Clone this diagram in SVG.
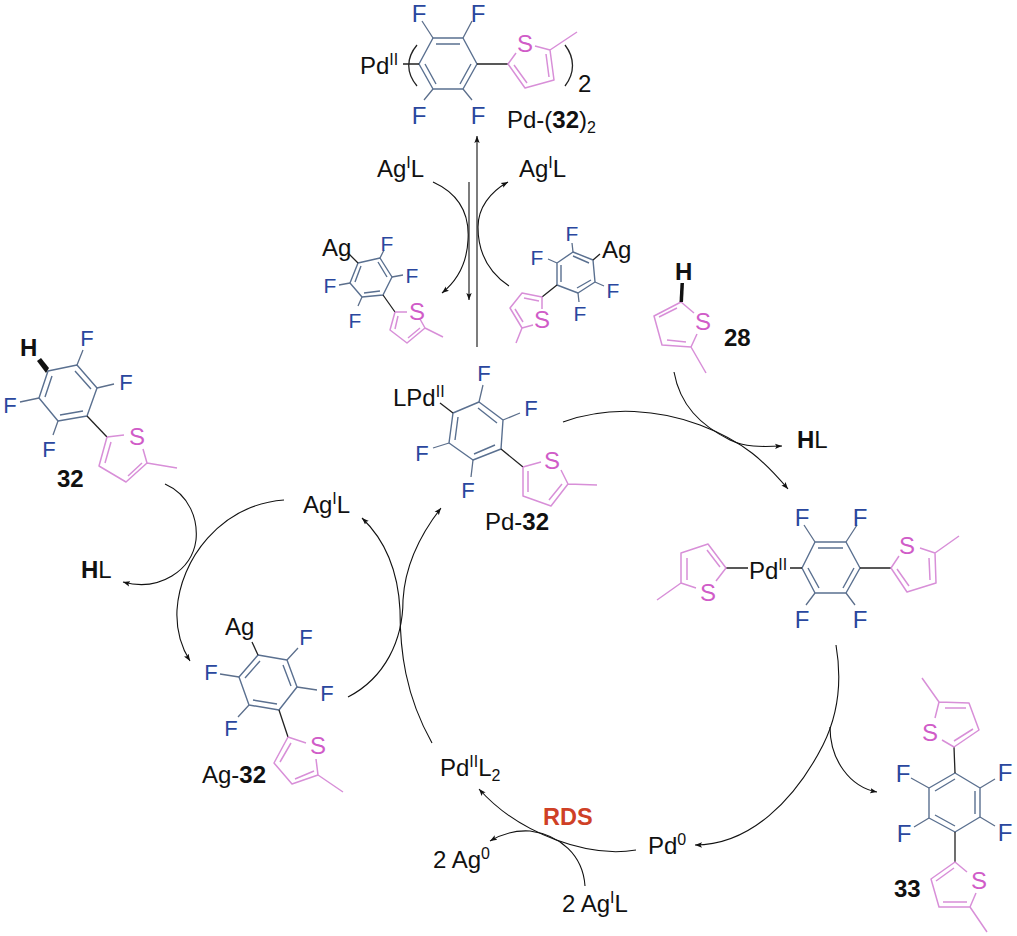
<svg xmlns="http://www.w3.org/2000/svg" width="1017" height="936" viewBox="0 0 1017 936">
<style>
text{font-family:"Liberation Sans",Arial,sans-serif;fill:#111}
.l{font-size:24px}
.b{font-weight:bold}
.f{font-size:24px;fill:#2a479e;text-anchor:middle}
.fm{font-size:22px;fill:#2a479e;text-anchor:middle}
.fs{font-size:21px;fill:#2a479e;text-anchor:middle}
.s{font-size:24px;fill:#d05cc8;text-anchor:middle}
.ring{fill:none;stroke:#5a7090;stroke-width:1.4;stroke-linejoin:round}
.fb{fill:none;stroke:#5c6f8c;stroke-width:1.3}
.th{fill:none;stroke:#d88fd8;stroke-width:1.5;stroke-linejoin:round}
.k{fill:none;stroke:#222;stroke-width:1.3}
.c{fill:none;stroke:#111;stroke-width:1.1}
.a{marker-end:url(#ah)}
.sup{font-size:16px}
</style>
<defs>
<marker id="ah" markerUnits="userSpaceOnUse" markerWidth="9" markerHeight="7" refX="7" refY="3.5" orient="auto"><path d="M0,0.8L7,3.5L0,6.2L1.5,3.5Z" fill="#111"/></marker>
</defs>
<rect width="1017" height="936" fill="#fff"/>

<g id="connectors">
<path class="c a" d="M477,347V136"/>
<path class="c a" d="M469,182V300"/>
<path class="c a" d="M433,182C455,192 470,210 468,240C467,262 458,280 442,293"/>
<path class="c a" d="M509,286C488,272 478,252 478,227C478,208 490,192 508,182"/>
<path class="c a" d="M563,422C610,405 660,410 700,425C745,442 765,462 788,489"/>
<path class="c a" d="M674,372C680,405 700,425 730,440C745,447 760,447 782,446"/>
<path class="c a" d="M836,645C842,680 838,715 823,745C795,800 750,845 695,845"/>
<path class="c a" d="M830,727C830,760 850,787 877,792"/>
<path class="c a" d="M636,850C590,858 520,835 479,789"/>
<path class="c a" d="M585,886C583,855 560,835 530,831C515,830 502,834 490,841"/>
<path class="c a" d="M432,743C405,695 400,650 400,610C398,570 385,540 362,518"/>
<path class="c a" d="M348,697C385,678 403,640 403,600C405,565 420,535 441,508"/>
<path class="c a" d="M284,500C220,505 180,560 177,610C176,630 180,645 190,661"/>
<path class="c a" d="M165,484C190,495 198,520 196,540C192,570 160,592 123,582"/>
</g>

<g id="pd-32-2">
<path class="ring" d="M433,38H463L477,64L463,89H433L419,64ZM436,44H460M471,64L460,84M436,84L425,64"/>
<path class="fb" d="M422,21L433,38M472,21L463,38M433,89L424,100M463,89L472,100"/>
<path class="k" d="M477,64H508M403,64H419"/>
<path class="th" d="M516,53L508,64L525,88L554,80L550,50L535,46M514,65L527,83M549,77L546,54M550,50L577,32"/>
<path class="k" d="M417,45C406,58 406,73 417,86M565,45C575,58 575,73 565,86"/>
<text class="f" x="419" y="22">F</text><text class="f" x="478" y="22">F</text><text class="f" x="419" y="124">F</text><text class="f" x="478" y="124">F</text>
<text class="s" x="525" y="52">S</text>
<text class="l" x="360" y="74">Pd<tspan class="sup" dy="-9">II</tspan></text>
<text class="l" x="578" y="92">2</text>
<text class="l" x="507" y="128">Pd-(<tspan class="b">32</tspan>)<tspan class="sup" dy="5">2</tspan></text>
</g>

<g id="agl-top">
<text class="l" x="377" y="177">Ag<tspan class="sup" dy="-9">I</tspan><tspan dy="9">L</tspan></text>
<text class="l" x="519" y="177">Ag<tspan class="sup" dy="-9">I</tspan><tspan dy="9">L</tspan></text>
</g>

<g id="ag-left">
<path class="ring" d="M358,263L380,258L392,277L383,295L362,297L350,283ZM361,266L355,282M378,262L387,277M380,291L364,293"/>
<path class="fb" d="M380,258L384,250M392,277L403,275M350,283L339,285M362,297L358,306"/>
<path class="k" d="M349,254L358,263M383,295L395,312"/>
<path class="th" d="M395,312H407M395,312L390,330L407,343L425,328L420,319M398,316L395,329M408,338L420,328M425,328L443,337"/>
<text class="fs" x="387" y="251">F</text><text class="fs" x="412" y="283">F</text><text class="fs" x="330" y="293">F</text><text class="fs" x="355" y="328">F</text>
<text class="s" x="417" y="320">S</text>
<text class="l" x="322" y="256">Ag</text>
</g>

<g id="ag-right">
<path class="ring" d="M573,252L593,260L595,282L578,293L557,285L557,263ZM573,256L589,263M591,280L577,288M561,282L561,265"/>
<path class="fb" d="M573,252L572,243M557,263L548,259M595,282L604,286M578,293L579,302"/>
<path class="k" d="M593,260L600,254M557,285L542,297"/>
<path class="th" d="M542,309L542,297L522,293L510,308L522,328L533,325M539,301L524,298M515,309L523,322M522,328L516,343"/>
<text class="fs" x="572" y="241">F</text><text class="fs" x="537" y="265">F</text><text class="fs" x="613" y="298">F</text><text class="fs" x="580" y="321">F</text>
<text class="s" x="542" y="328">S</text>
<text class="l" x="602" y="258">Ag</text>
</g>

<g id="cmpd-28">
<path class="th" d="M681,302L654,316L662,345L691,347L697,334M681,302L694,313M677,308L659,317M667,340L686,342M691,347L706,373"/>
<path d="M679.5,302L680.5,283H684L683,302Z" fill="#111"/>
<text class="s" x="703" y="330">S</text>
<text class="l b" x="675" y="280">H</text>
<text class="l b" x="724" y="346">28</text>
<text class="l" x="797" y="448"><tspan class="b">H</tspan>L</text>
</g>

<g id="cmpd-32">
<path class="ring" d="M48,371L77,365L97,388L87,416L58,421L39,398ZM52,376L45,397M75,371L91,389M83,411L60,415"/>
<path class="fb" d="M77,365L83,350M97,388L114,384M39,398L20,402M58,421L53,435"/>
<path d="M49,368L41,358L37,361L46,373Z" fill="#111"/>
<path class="k" d="M87,416L107,437"/>
<path class="th" d="M107,437L124,435M107,437L99,466L126,482L147,463L143,449M111,442L105,463M128,476L142,463M147,463L177,468"/>
<text class="fm" x="87" y="346">F</text><text class="fm" x="126" y="390">F</text><text class="fm" x="10" y="413">F</text><text class="fm" x="49" y="457">F</text>
<text class="s" x="137" y="445">S</text>
<text class="l b" x="20" y="356">H</text>
<text class="l b" x="57" y="487">32</text>
<text class="l" x="81" y="578"><tspan class="b">H</tspan>L</text>
</g>

<g id="agl-mid">
<text class="l" x="303" y="513">Ag<tspan class="sup" dy="-9">I</tspan><tspan dy="9">L</tspan></text>
</g>

<g id="ag-32">
<path class="ring" d="M258,655L287,660L297,687L279,710L249,705L239,677ZM260,661L245,678M283,665L291,686M277,704L253,700"/>
<path class="fb" d="M287,660L298,648M239,677L220,674M297,687L317,690M249,705L238,717"/>
<path class="k" d="M252,642L258,655M279,710L288,737"/>
<path class="th" d="M288,737L306,743M288,737L274,763L292,784L318,775L316,759M291,743L280,762M295,779L314,771M318,775L343,792"/>
<text class="fm" x="306" y="645">F</text><text class="fm" x="211" y="680">F</text><text class="fm" x="327" y="701">F</text><text class="fm" x="231" y="736">F</text>
<text class="s" x="318" y="754">S</text>
<text class="l" x="225" y="635">Ag</text>
<text class="l" x="202" y="783">Ag-<tspan class="b">32</tspan></text>
</g>

<g id="pd-32">
<path class="ring" d="M453,413L479,402L503,420L501,449L473,460L449,443ZM458,417L455,440M478,408L497,423M495,445L474,454"/>
<path class="fb" d="M479,402L483,385M503,420L520,413M449,443L433,448M473,460L471,477"/>
<path class="k" d="M440,403L453,413M501,449L523,467"/>
<path class="th" d="M523,467L541,462M523,467V496L551,506L568,484L561,470M528,471V492M549,500L562,484M568,484L597,485"/>
<text class="fm" x="484" y="381">F</text><text class="fm" x="531" y="416">F</text><text class="fm" x="422" y="461">F</text><text class="fm" x="468" y="498">F</text>
<text class="s" x="552" y="469">S</text>
<text class="l" x="393" y="406">LPd<tspan class="sup" dy="-9">II</tspan></text>
<text class="l" x="485" y="530">Pd-<tspan class="b">32</tspan></text>
</g>

<g id="pd-intermediate">
<path class="ring" d="M815,542H846L860,568L846,593H815L802,568ZM818,548H843M854,568L843,588M819,588L808,568"/>
<path class="fb" d="M815,542L804,525M846,542L857,525M815,593L806,605M846,593L855,605"/>
<path class="k" d="M860,568H891M726,568H748M790,568H802"/>
<path class="th" d="M899,556L891,568L907,592L936,583L935,553L920,548M897,569L909,586M930,580L929,558M935,553L959,536"/>
<path class="th" d="M716,581L726,568L708,544L681,553V583L696,588M720,567L707,550M687,558V580M681,583L657,600"/>
<text class="f" x="802" y="526">F</text><text class="f" x="860" y="526">F</text><text class="f" x="802" y="628">F</text><text class="f" x="860" y="628">F</text>
<text class="s" x="907" y="554">S</text><text class="s" x="708" y="601">S</text>
<text class="l" x="749" y="579">Pd<tspan class="sup" dy="-9">II</tspan></text>
</g>

<g id="cmpd-33">
<path class="ring" d="M955,773L980,788V817L955,832L929,818V788ZM955,779L935,791M975,791V814M955,826L935,815"/>
<path class="fb" d="M929,788L911,778M980,788L995,779M929,818L914,827M980,817L995,826"/>
<path class="k" d="M955,773L954,747M955,832V862"/>
<path class="th" d="M942,740L954,747L979,730L969,703L939,702L935,718M954,741L973,729M966,708H945M939,702L922,678"/>
<path class="th" d="M967,872L955,862L931,879L939,907H970L976,893M954,868L936,881M943,902H967M970,907L987,932"/>
<text class="f" x="903" y="782">F</text><text class="f" x="1005" y="781">F</text><text class="f" x="904" y="842">F</text><text class="f" x="1005" y="841">F</text>
<text class="s" x="930" y="741">S</text><text class="s" x="979" y="889">S</text>
<text class="l b" x="894" y="897">33</text>
</g>

<g id="pd-species">
<text class="l" x="440" y="776">Pd<tspan class="sup" dy="-9">II</tspan><tspan dy="9">L</tspan><tspan class="sup" dy="5">2</tspan></text>
<text class="l" x="648" y="854">Pd<tspan class="sup" dy="-9">0</tspan></text>
<text class="l" x="433" y="868">2 Ag<tspan class="sup" dy="-9">0</tspan></text>
<text class="l" x="562" y="912">2 Ag<tspan class="sup" dy="-9">I</tspan><tspan dy="9">L</tspan></text>
<text class="l b" style="font-size:23.5px;fill:#cf4026" x="543" y="825">RDS</text>
</g>
</svg>
